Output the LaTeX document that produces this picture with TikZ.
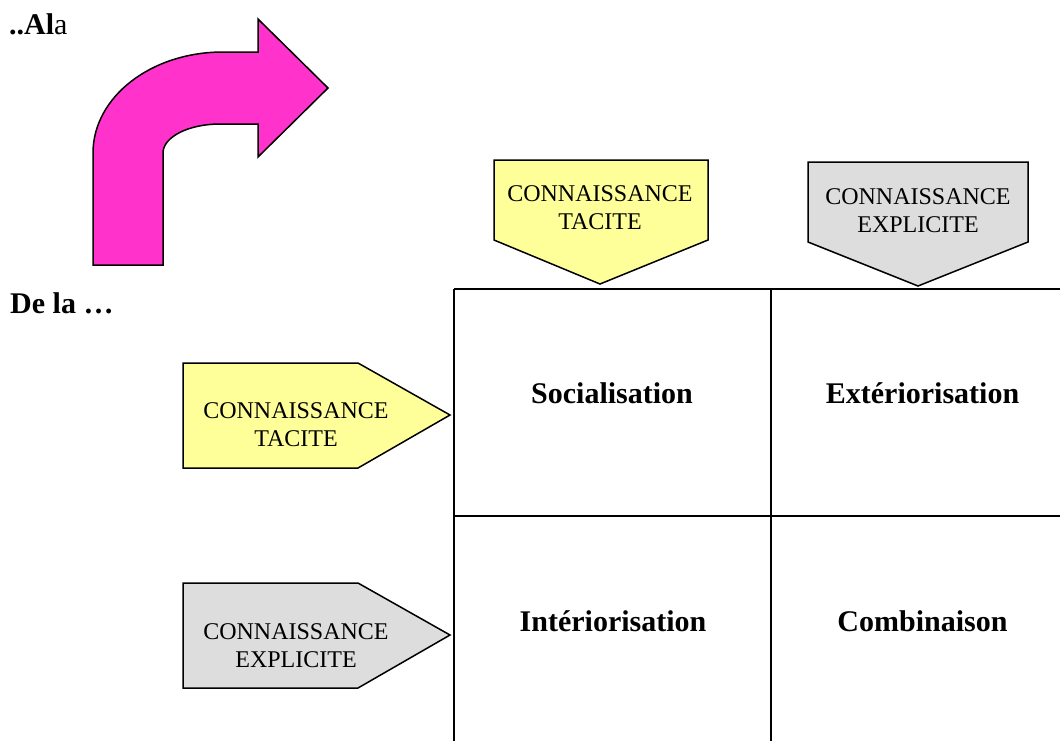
\documentclass[tikz,border=0pt]{standalone}
\usepackage{fontspec}
\setmainfont{Liberation Serif}
\definecolor{arrowpink}{HTML}{FF33CC}
\definecolor{tacitfill}{HTML}{FFFF99}
\definecolor{explfill}{HTML}{DDDDDD}
\tikzset{
  shape edge/.style={draw=black, line width=1.5pt, line join=miter},
  tagtext/.style={align=center, inner sep=0pt, font=\fontsize{24}{28}\selectfont},
  celltext/.style={anchor=base, inner sep=0pt, font=\fontsize{30}{34}\selectfont\bfseries},
  sidetext/.style={anchor=base west, inner sep=0pt, font=\fontsize{30}{34}\selectfont},
  gridline/.style={draw=black, line width=1.4pt}
}
\begin{document}
\begin{tikzpicture}[x=1pt, y=-1pt]
\useasboundingbox (0,0) rectangle (1060,740);

% corner labels
\node[sidetext] (ala) at (9,34) {\textbf{..Al}a};
\node[sidetext, font=\fontsize{30}{34}\selectfont\bfseries] (dela) at (10,313) {De la …};

% bent arrow
\path[shape edge, fill=arrowpink]
  (93,265) -- (93,153)
  .. controls (93,97) and (151,52) .. (223,52)
  -- (258,52) -- (258,19) -- (328,88) -- (258,157) -- (258,124) -- (220,124)
  .. controls (188.5,124) and (163,137) .. (163,153)
  -- (163,265) -- cycle;

% column headers (downward tags)
\path[shape edge, fill=tacitfill]
  (494,160) -- (708,160) -- (708,240) -- (600,284) -- (494,240) -- cycle;
\node[tagtext] (coltacit) at (600,208) {CONNAISSANCE\\TACITE};

\path[shape edge, fill=explfill]
  (808,162) -- (1028,162) -- (1028,242) -- (918,286) -- (808,242) -- cycle;
\node[tagtext] (colexpl) at (918,211) {CONNAISSANCE\\EXPLICITE};

% row headers (rightward tags)
\path[shape edge, fill=tacitfill]
  (183,363) -- (358,363) -- (450,415) -- (358,468) -- (183,468) -- cycle;
\node[tagtext] (rowtacit) at (296,425) {CONNAISSANCE\\TACITE};

\path[shape edge, fill=explfill]
  (183,583) -- (358,583) -- (450,635) -- (358,688) -- (183,688) -- cycle;
\node[tagtext] (rowexpl) at (296,646) {CONNAISSANCE\\EXPLICITE};

% the 2x2 grid
\draw[gridline] (454,289) -- (1074,289);
\draw[gridline] (454,516) -- (1074,516);
\draw[gridline] (454,289) -- (454,745);
\draw[gridline] (771,289) -- (771,745);

\node[celltext] (soc) at (612,403) {Socialisation};
\node[celltext] (ext) at (922.5,403) {Extériorisation};
\node[celltext] (int) at (613,631) {Intériorisation};
\node[celltext] (comb) at (922.5,631) {Combinaison};
\end{tikzpicture}
\end{document}
